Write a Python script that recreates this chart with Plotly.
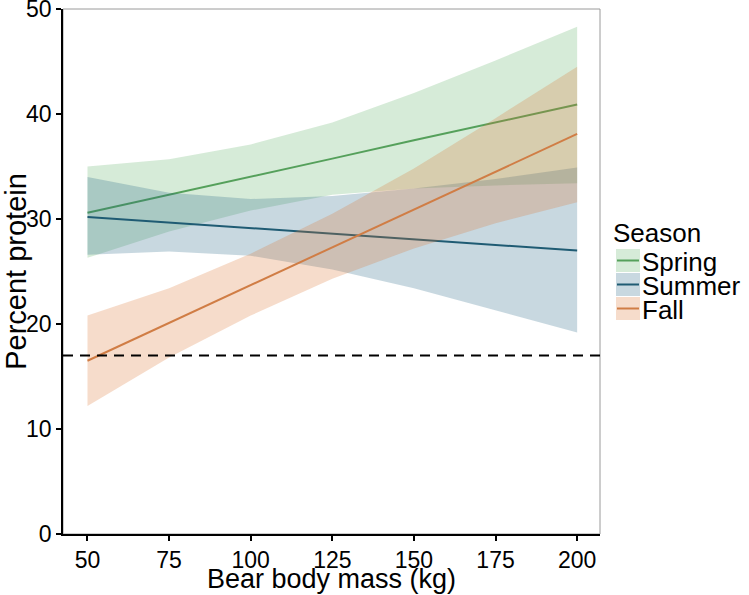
import plotly.graph_objects as go

# ---- data ----
mass = [50, 75, 100, 125, 150, 175, 200]

spring_fit = [30.6, 32.3, 34.0, 35.75, 37.5, 39.2, 40.9]
spring_lo = [26.3, 28.8, 30.8, 32.3, 32.9, 33.2, 33.4]
spring_hi = [35.0, 35.7, 37.1, 39.2, 42.0, 45.1, 48.3]

summer_fit = [30.2, 29.67, 29.13, 28.6, 28.07, 27.53, 27.0]
summer_lo = [26.6, 26.9, 26.5, 25.2, 23.4, 21.3, 19.2]
summer_hi = [34.0, 32.5, 31.9, 32.2, 32.9, 33.8, 34.9]

fall_fit = [16.5, 20.1, 23.7, 27.3, 30.9, 34.5, 38.1]
fall_lo = [12.2, 16.8, 20.8, 24.3, 27.2, 29.6, 31.6]
fall_hi = [20.8, 23.4, 26.7, 30.5, 34.8, 39.6, 44.5]

threshold = 17

seasons = ["Spring", "Summer", "Fall"]
x_ticks = [50, 75, 100, 125, 150, 175, 200]
y_ticks = [0, 10, 20, 30, 40, 50]

series = {
    "Spring": (spring_fit, spring_lo, spring_hi),
    "Summer": (summer_fit, summer_lo, summer_hi),
    "Fall": (fall_fit, fall_lo, fall_hi),
}
line_colors = {"Spring": "#55a05b", "Summer": "#1f5b73", "Fall": "#d07d45"}
fill_colors = {"Spring": "rgba(91,175,99,0.25)",
               "Summer": "rgba(35,99,131,0.25)",
               "Fall": "rgba(219,115,47,0.25)"}

FONT = "Liberation Sans, Arial, sans-serif"

fig = go.Figure()
for s in seasons:
    fit, lo, hi = series[s]
    fig.add_trace(go.Scatter(x=mass, y=lo, mode="lines", line=dict(width=0),
                             showlegend=False, hoverinfo="skip"))
    fig.add_trace(go.Scatter(x=mass, y=hi, mode="lines", line=dict(width=0),
                             fill="tonexty", fillcolor=fill_colors[s],
                             showlegend=False, hoverinfo="skip"))
    fig.add_trace(go.Scatter(x=mass, y=fit, mode="lines",
                             line=dict(color=line_colors[s], width=2),
                             name=s, showlegend=False))

# dashed reference line
fig.add_shape(type="line", xref="paper", x0=0, x1=1, yref="y", y0=threshold, y1=threshold,
              line=dict(color="black", width=2, dash="10px,7px"), layer="above")

# panel border (grey)
fig.add_shape(type="rect", xref="paper", yref="paper", x0=0, x1=1, y0=0, y1=1,
              line=dict(color="#9a9a9a", width=1), layer="below")

# ---- pixel layout helpers ----
L, R, T, B = 63, 149, 9, 61
W, H = 749, 595
pw, ph = W - L - R, H - T - B

def px(xp):
    return (xp - L) / pw

def py(yp):
    return (H - B - yp) / ph

# x-axis title (placed explicitly so it sits below the tick labels)
fig.add_annotation(xref="paper", yref="paper", x=0.5, y=py(579), text="Bear body mass (kg)",
                   showarrow=False, xanchor="center", yanchor="middle", borderpad=0,
                   font=dict(family=FONT, size=27, color="black"))

# custom legend
fig.add_annotation(xref="paper", yref="paper", x=px(612), y=py(233), text="Season",
                   showarrow=False, xanchor="left", yanchor="middle", borderpad=0,
                   font=dict(family=FONT, size=26, color="black"))
key_top = 249
key_h = 24
for i, s in enumerate(seasons):
    y0 = key_top + i * key_h
    y1 = y0 + key_h - 1
    fig.add_shape(type="rect", xref="paper", yref="paper",
                  x0=px(616), x1=px(640), y0=py(y1), y1=py(y0),
                  fillcolor=fill_colors[s], line=dict(width=0))
    fig.add_shape(type="line", xref="paper", yref="paper",
                  x0=px(617), x1=px(639), y0=py((y0 + y1) / 2), y1=py((y0 + y1) / 2),
                  line=dict(color=line_colors[s], width=2))
    fig.add_annotation(xref="paper", yref="paper", x=px(641), y=py((y0 + y1) / 2 + 1),
                       text=s, showarrow=False, xanchor="left", yanchor="middle",
                       borderpad=0,
                       font=dict(family=FONT, size=26, color="black"))

fig.update_layout(
    width=W, height=H,
    margin=dict(l=L, r=R, t=T, b=B, autoexpand=False),
    plot_bgcolor="white", paper_bgcolor="white",
    font=dict(family=FONT, size=23, color="black"),
    showlegend=False,
    xaxis=dict(range=[42.5, 207], tickvals=x_ticks, ticks="outside", ticklen=5,
               tickwidth=1.5, tickcolor="black", showline=True, linecolor="black",
               linewidth=1.5, showgrid=False, zeroline=False, automargin=False,
               tickfont=dict(size=23, color="black")),
    yaxis=dict(range=[0, 50], tickvals=y_ticks, ticks="outside", ticklen=5,
               tickwidth=1.5, tickcolor="black", showline=True, linecolor="black",
               linewidth=1.5, showgrid=False, zeroline=False, automargin=False,
               ticklabeloverflow="allow",
               tickfont=dict(size=23, color="black"),
               title=dict(text="Percent protein", font=dict(size=29), standoff=2)),
)

fig.write_html("out.html", config={"displayModeBar": False},
               post_script="document.body.style.margin='0px';document.body.style.overflow='hidden';")
